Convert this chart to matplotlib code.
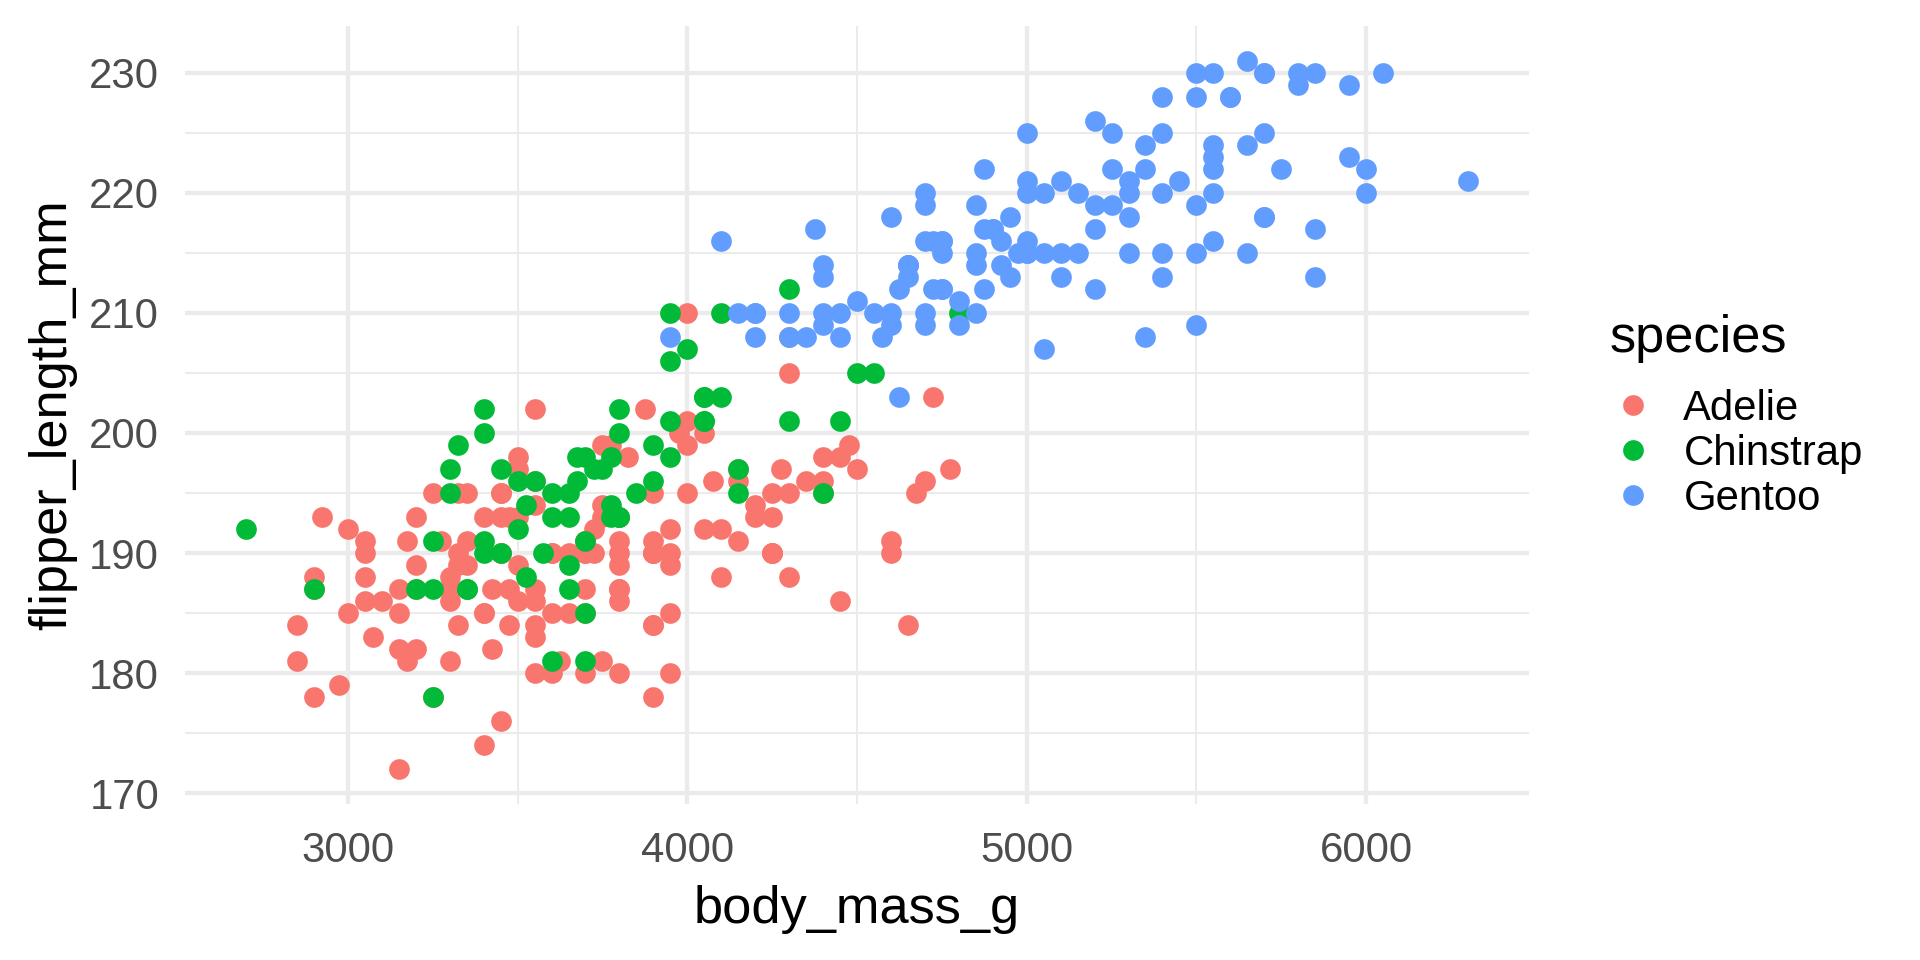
import matplotlib
matplotlib.use("Agg")
import matplotlib.pyplot as plt
from matplotlib.lines import Line2D
from matplotlib.ticker import MultipleLocator

plt.rcParams['font.family'] = ['Liberation Sans', 'DejaVu Sans']

species = ["Adelie", "Chinstrap", "Gentoo"]
colors = ["#F8766D", "#00BA38", "#619CFF"]

adelie_mass = [3750, 3800, 3250, 3450, 3650, 3625, 4675, 3475, 4250, 3300,
               3700, 3200, 3800, 4400, 3700, 3450, 4500, 3325, 4200, 3400,
               3600, 3800, 3950, 3800, 3800, 3550, 3200, 3150, 3950, 3250,
               3900, 3300, 3900, 3325, 4150, 3950, 3550, 3300, 4650, 3150,
               3900, 3100, 4400, 3000, 4600, 3425, 2975, 3450, 4150, 3500,
               4300, 3450, 4050, 2900, 3700, 3550, 3800, 2850, 3750, 3150,
               4400, 3600, 4050, 2850, 3950, 3350, 4100, 3050, 4450, 3600,
               3900, 3550, 4150, 3700, 4250, 3700, 3900, 3550, 4000, 3200,
               4700, 3800, 4200, 3350, 3550, 3800, 3500, 3950, 3600, 3550,
               4300, 3400, 4450, 3300, 4300, 3700, 4350, 2900, 4100, 3725,
               4725, 3075, 4250, 2925, 3550, 3750, 3900, 3175, 4775, 3825,
               4600, 3200, 4275, 3900, 4075, 2900, 3775, 3350, 3325, 3150,
               3500, 3450, 3875, 3050, 4000, 3275, 4300, 3050, 4000, 3325,
               3500, 3500, 4475, 3425, 3900, 3175, 3975, 3400, 4250, 3400,
               3475, 3050, 3725, 3000, 3650, 4250, 3475, 3450, 3750, 3700,
               4000]
adelie_flipper = [181, 186, 195, 193, 190, 181, 195, 193, 190, 186,
                  180, 182, 191, 198, 185, 195, 197, 184, 194, 174,
                  180, 189, 185, 180, 187, 183, 187, 172, 180, 178,
                  178, 188, 184, 195, 196, 190, 180, 181, 184, 182,
                  195, 186, 196, 185, 190, 182, 179, 190, 191, 186,
                  188, 190, 200, 187, 191, 186, 193, 181, 194, 185,
                  195, 185, 192, 184, 192, 195, 188, 190, 198, 190,
                  190, 196, 197, 190, 195, 191, 184, 187, 195, 189,
                  196, 187, 193, 191, 194, 190, 189, 189, 190, 202,
                  205, 185, 186, 187, 208, 190, 196, 178, 192, 192,
                  203, 183, 190, 193, 184, 199, 190, 181, 197, 198,
                  191, 193, 197, 191, 196, 188, 199, 189, 189, 187,
                  198, 176, 202, 186, 199, 191, 195, 191, 210, 190,
                  197, 193, 199, 187, 190, 191, 200, 185, 193, 193,
                  187, 188, 190, 192, 185, 190, 184, 195, 193, 187,
                  201]

chinstrap_mass = [3500, 3900, 3650, 3525, 3725, 3950, 3250, 3750, 4150, 3700,
                  3800, 3775, 3700, 4050, 3575, 4050, 3300, 3700, 3450, 4400,
                  3600, 3400, 2900, 3800, 3300, 4150, 3400, 3800, 3700, 4550,
                  3200, 4300, 3350, 4100, 3600, 3900, 3850, 4800, 2700, 4500,
                  3950, 3650, 3550, 3500, 3675, 4450, 3400, 4300, 3250, 3675,
                  3325, 3950, 3600, 4050, 3350, 3450, 3250, 4050, 3800, 3525,
                  3950, 3650, 3650, 4000, 3400, 3775, 4100, 3775]
chinstrap_flipper = [192, 196, 193, 188, 197, 198, 178, 197, 195, 198,
                     193, 194, 185, 201, 190, 201, 197, 181, 190, 195,
                     181, 191, 187, 193, 195, 197, 200, 200, 191, 205,
                     187, 201, 187, 203, 195, 199, 195, 210, 192, 205,
                     210, 187, 196, 196, 196, 201, 190, 212, 187, 198,
                     199, 201, 193, 203, 187, 197, 191, 203, 202, 194,
                     206, 189, 195, 207, 202, 193, 210, 198]

gentoo_mass = [4500, 5700, 4450, 5700, 5400, 4550, 4800, 5200, 4400, 5150,
               4650, 5550, 4650, 5850, 4200, 5850, 4150, 6300, 4800, 5350,
               5700, 5000, 4400, 5050, 5000, 5100, 4100, 5650, 4600, 5550,
               5250, 4700, 5050, 6050, 5150, 5400, 4950, 5250, 4350, 5350,
               3950, 5700, 4300, 4750, 5550, 4900, 4200, 5400, 5100, 5300,
               4850, 5300, 4400, 5000, 4900, 5050, 4300, 5000, 4450, 5550,
               4200, 5300, 4400, 5650, 4700, 5700, 4650, 5800, 4700, 5550,
               4750, 5000, 5100, 5200, 4700, 5800, 4600, 6000, 4750, 5950,
               4625, 5450, 4725, 5350, 4750, 5600, 4600, 5300, 4875, 5550,
               4950, 5400, 4750, 5650, 4850, 5200, 4925, 4875, 4625, 5250,
               4850, 5600, 4975, 5500, 4725, 5500, 4700, 5500, 4575, 5500,
               5000, 5950, 4650, 5500, 4375, 5850, 4875, 6000, 4925, 4850,
               5750, 5200, 5400]
gentoo_flipper = [211, 230, 210, 218, 215, 210, 211, 219, 209, 215,
                  214, 216, 214, 213, 210, 217, 210, 221, 209, 222,
                  218, 215, 213, 215, 215, 215, 216, 215, 210, 220,
                  222, 209, 207, 230, 220, 220, 213, 219, 208, 208,
                  208, 225, 210, 216, 222, 217, 210, 225, 213, 215,
                  210, 220, 210, 225, 217, 220, 208, 220, 208, 224,
                  208, 221, 214, 231, 219, 230, 214, 229, 220, 223,
                  216, 221, 221, 217, 216, 230, 209, 220, 215, 223,
                  212, 221, 212, 224, 212, 228, 218, 218, 212, 230,
                  218, 228, 212, 224, 214, 226, 216, 222, 203, 225,
                  219, 228, 215, 228, 216, 215, 210, 219, 208, 209,
                  216, 229, 213, 230, 217, 230, 217, 222, 214, 215,
                  222, 212, 213]

x_title = "body_mass_g"
y_title = "flipper_length_mm"
legend_title = "species"
x_ticks = [3000, 4000, 5000, 6000]
y_ticks = [170, 180, 190, 200, 210, 220, 230]

W, H = 1920, 960
fig = plt.figure(figsize=(19.2, 9.6), dpi=100)
left, right, top, bottom = 185, 1529, 25.6, 804.4
ax = fig.add_axes([left / W, 1 - bottom / H, (right - left) / W, (bottom - top) / H])

series = [(adelie_mass, adelie_flipper), (chinstrap_mass, chinstrap_flipper),
          (gentoo_mass, gentoo_flipper)]
for (xs, ys), c in zip(series, colors):
    ax.scatter(xs, ys, s=222, c=c, linewidths=0, zorder=3)

all_x = adelie_mass + chinstrap_mass + gentoo_mass
all_y = adelie_flipper + chinstrap_flipper + gentoo_flipper
xr = max(all_x) - min(all_x)
yr = max(all_y) - min(all_y)
ax.set_xlim(min(all_x) - 0.05 * xr, max(all_x) + 0.05 * xr)
ax.set_ylim(min(all_y) - 0.05 * yr, max(all_y) + 0.05 * yr)

ax.set_xticks(x_ticks)
ax.set_yticks(y_ticks)
ax.xaxis.set_minor_locator(MultipleLocator(500))
ax.yaxis.set_minor_locator(MultipleLocator(5))
ax.grid(which='major', color='#EBEBEB', linewidth=3.1, zorder=0)
ax.grid(which='minor', color='#EBEBEB', linewidth=1.5, zorder=0)
ax.set_axisbelow(True)
for s in ax.spines.values():
    s.set_visible(False)
ax.tick_params(which='both', length=0, labelsize=30.2, labelcolor='#4D4D4D')
ax.tick_params(axis='x', pad=19.5)
ax.tick_params(axis='y', pad=18.7)

ax.set_xlabel(x_title, fontsize=37.7, color='black', va='baseline')
ax.xaxis.set_label_coords(0.5, (bottom - 923) / (bottom - top))
ax.set_ylabel(y_title, fontsize=37.7, color='black', va='baseline')
ax.yaxis.set_label_coords((66 - left) / (right - left), 0.5)

# legend title and entries
fig.text(1610 / W, 1 - 352 / H, legend_title, fontsize=37.7, color='black',
         ha='left', va='baseline')
handles = [Line2D([], [], linestyle='none', marker='o', markersize=14.9,
                  markerfacecolor=c, markeredgewidth=0) for c in colors]
leg = fig.legend(handles, species, loc='center left',
                 bbox_to_anchor=(1610 / W, 1 - 454 / H), frameon=False,
                 fontsize=30.2, borderpad=0, borderaxespad=0,
                 handlelength=1.08, handletextpad=0.67, labelspacing=0.12)

fig.savefig("out.png", dpi=100, facecolor='white')
